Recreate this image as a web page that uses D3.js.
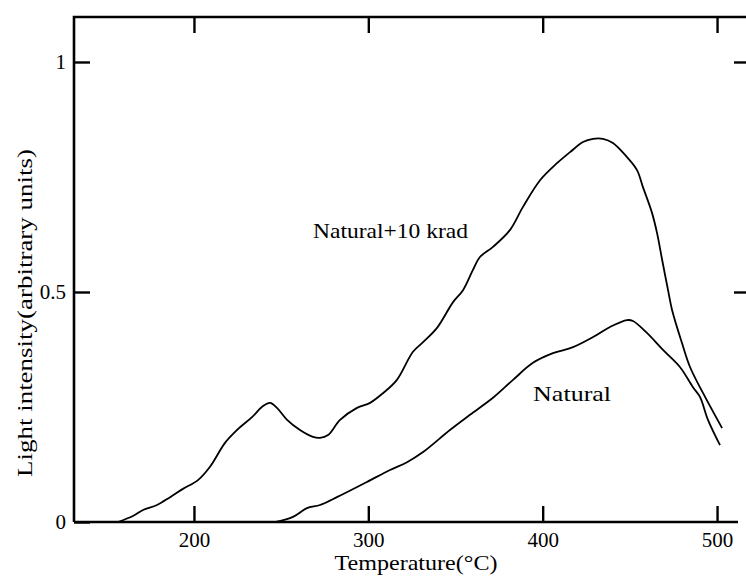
<!DOCTYPE html>
<html>
<head>
<meta charset="utf-8">
<script src="https://cdn.jsdelivr.net/npm/d3@7"></script>
<style>
  body { margin: 0; background: #fff; }
  svg text { font-family: "Liberation Serif", "Times New Roman", serif !important; fill: #000; }
</style>
</head>
<body>
<div id="chart"></div>
<script>
// readings (temperature in °C, light intensity in arb. units)
const irrTemps = [156.4, 165.0, 170.8, 178.8, 186.3, 193.7, 202.3, 209.2, 217.8, 224.7, 233.3, 239.6, 243.6, 247.6,
  253.4, 260.8, 268.3, 272.3, 276.9, 283.8, 293.5, 301.0, 308.4, 316.4, 325.6, 331.4, 339.4, 348.6, 354.3, 360.0,
  364.0, 371.5, 381.3, 388.7, 398.5, 408.2, 415.7, 423.1, 428.9, 434.6, 440.3, 448.4, 454.1, 457.5, 462.7, 465.6,
  468.5, 471.9, 474.2, 479.9, 484.5, 492.0, 502.9];
const irrValues = [0, 0.013, 0.026, 0.037, 0.054, 0.072, 0.091, 0.12, 0.172, 0.2, 0.228, 0.252, 0.259, 0.248, 0.222,
  0.2, 0.185, 0.183, 0.189, 0.222, 0.248, 0.259, 0.28, 0.309, 0.37, 0.391, 0.422, 0.478, 0.504, 0.548, 0.576, 0.598,
  0.635, 0.685, 0.743, 0.78, 0.804, 0.826, 0.833, 0.833, 0.824, 0.793, 0.765, 0.728, 0.672, 0.628, 0.57, 0.504,
  0.461, 0.389, 0.337, 0.28, 0.204];

const natTemps = [247.0, 256.8, 264.8, 272.3, 282.0, 299.2, 312.4, 322.2, 331.4, 346.8, 358.3, 371.5, 383.0, 394.4,
  405.9, 417.4, 428.9, 438.6, 448.4, 451.8, 459.8, 469.0, 478.7, 486.2, 490.2, 494.8, 501.7];
const natValues = [0, 0.011, 0.03, 0.037, 0.054, 0.087, 0.113, 0.13, 0.152, 0.2, 0.233, 0.27, 0.309, 0.346, 0.367,
  0.38, 0.402, 0.424, 0.439, 0.437, 0.411, 0.374, 0.337, 0.293, 0.272, 0.222, 0.167];

const xTicks = [200, 300, 400, 500];
const yTicks = [0, 0.5, 1];
const yTickLabels = ["0", "0.5", "1"];

const width = 746, height = 577;
const plotLeft = 74, plotRight = 750, plotTop = 17, plotBottom = 522;
const serif = '"Liberation Serif", "Times New Roman", serif';

const svg = d3.select("#chart").append("svg")
  .attr("width", width)
  .attr("height", height)
  .attr("font-family", serif);

const x = d3.scaleLinear().domain([131.2, 518.9]).range([plotLeft, plotRight]);
const y = d3.scaleLinear().domain([0, 1.0978]).range([plotBottom, plotTop]);

// frame lines (right side falls just outside the picture)
const frame = svg.append("g").attr("stroke", "#000").attr("stroke-width", 2.6).attr("fill", "none");
frame.append("path").attr("d", `M${plotLeft},${plotBottom}V${plotTop}H${plotRight}`);
frame.append("path").attr("d", `M${plotLeft},${plotBottom}H738`);

// bottom axis, ticks pointing inward
const xAxis = svg.append("g")
  .attr("transform", `translate(0,${plotBottom})`)
  .call(d3.axisBottom(x).tickValues(xTicks).tickSizeInner(-16).tickSizeOuter(0).tickPadding(25));
xAxis.attr("font-family", serif);
xAxis.select(".domain").remove();
xAxis.selectAll("line").attr("stroke-width", 2.4);
xAxis.selectAll("text").attr("font-size", 21).attr("dy", 0).style("font-family", serif);

// top ticks
svg.append("g")
  .attr("transform", `translate(0,${plotTop})`)
  .call(d3.axisTop(x).tickValues(xTicks).tickSizeInner(-16).tickSizeOuter(0).tickFormat(""))
  .call(g => g.select(".domain").remove())
  .selectAll("line").attr("stroke-width", 2.4);

// left axis
const yAxis = svg.append("g")
  .attr("transform", `translate(${plotLeft},0)`)
  .call(d3.axisLeft(y).tickValues(yTicks).tickSizeInner(-16).tickSizeOuter(0).tickPadding(8)
    .tickFormat((d, i) => yTickLabels[i]));
yAxis.attr("font-family", serif);
yAxis.select(".domain").remove();
yAxis.selectAll("line").attr("stroke-width", 2.4);
yAxis.selectAll("text").attr("font-size", 21).style("font-family", serif);

// right ticks
svg.append("g")
  .attr("transform", `translate(${plotRight},0)`)
  .call(d3.axisRight(y).tickValues(yTicks.slice(1)).tickSizeInner(-16).tickSizeOuter(0).tickFormat(""))
  .call(g => g.select(".domain").remove())
  .selectAll("line").attr("stroke-width", 2.4);

// curves
const line = d3.line()
  .x(d => x(d[0]))
  .y(d => y(d[1]))
  .curve(d3.curveCatmullRom);

svg.append("path")
  .datum(d3.zip(irrTemps, irrValues))
  .attr("d", line)
  .attr("fill", "none")
  .attr("stroke", "#000")
  .attr("stroke-width", 1.8);

svg.append("path")
  .datum(d3.zip(natTemps, natValues))
  .attr("d", line)
  .attr("fill", "none")
  .attr("stroke", "#000")
  .attr("stroke-width", 1.8);

// curve labels
svg.append("text")
  .attr("x", x(268.3)).attr("y", y(0.617))
  .attr("font-size", 21)
  .attr("textLength", 155).attr("lengthAdjust", "spacingAndGlyphs")
  .text("Natural+10 krad");

svg.append("text")
  .attr("x", x(394.5)).attr("y", y(0.263))
  .attr("font-size", 21)
  .attr("textLength", 78).attr("lengthAdjust", "spacingAndGlyphs")
  .text("Natural");

// axis titles
svg.append("text")
  .attr("x", 416).attr("y", 570)
  .attr("text-anchor", "middle")
  .attr("font-size", 21)
  .attr("textLength", 163).attr("lengthAdjust", "spacingAndGlyphs")
  .text("Temperature(°C)");

svg.append("text")
  .attr("transform", "translate(32,313) rotate(-90)")
  .attr("text-anchor", "middle")
  .attr("font-size", 21)
  .attr("textLength", 328).attr("lengthAdjust", "spacingAndGlyphs")
  .text("Light intensity(arbitrary units)");
</script>
</body>
</html>
